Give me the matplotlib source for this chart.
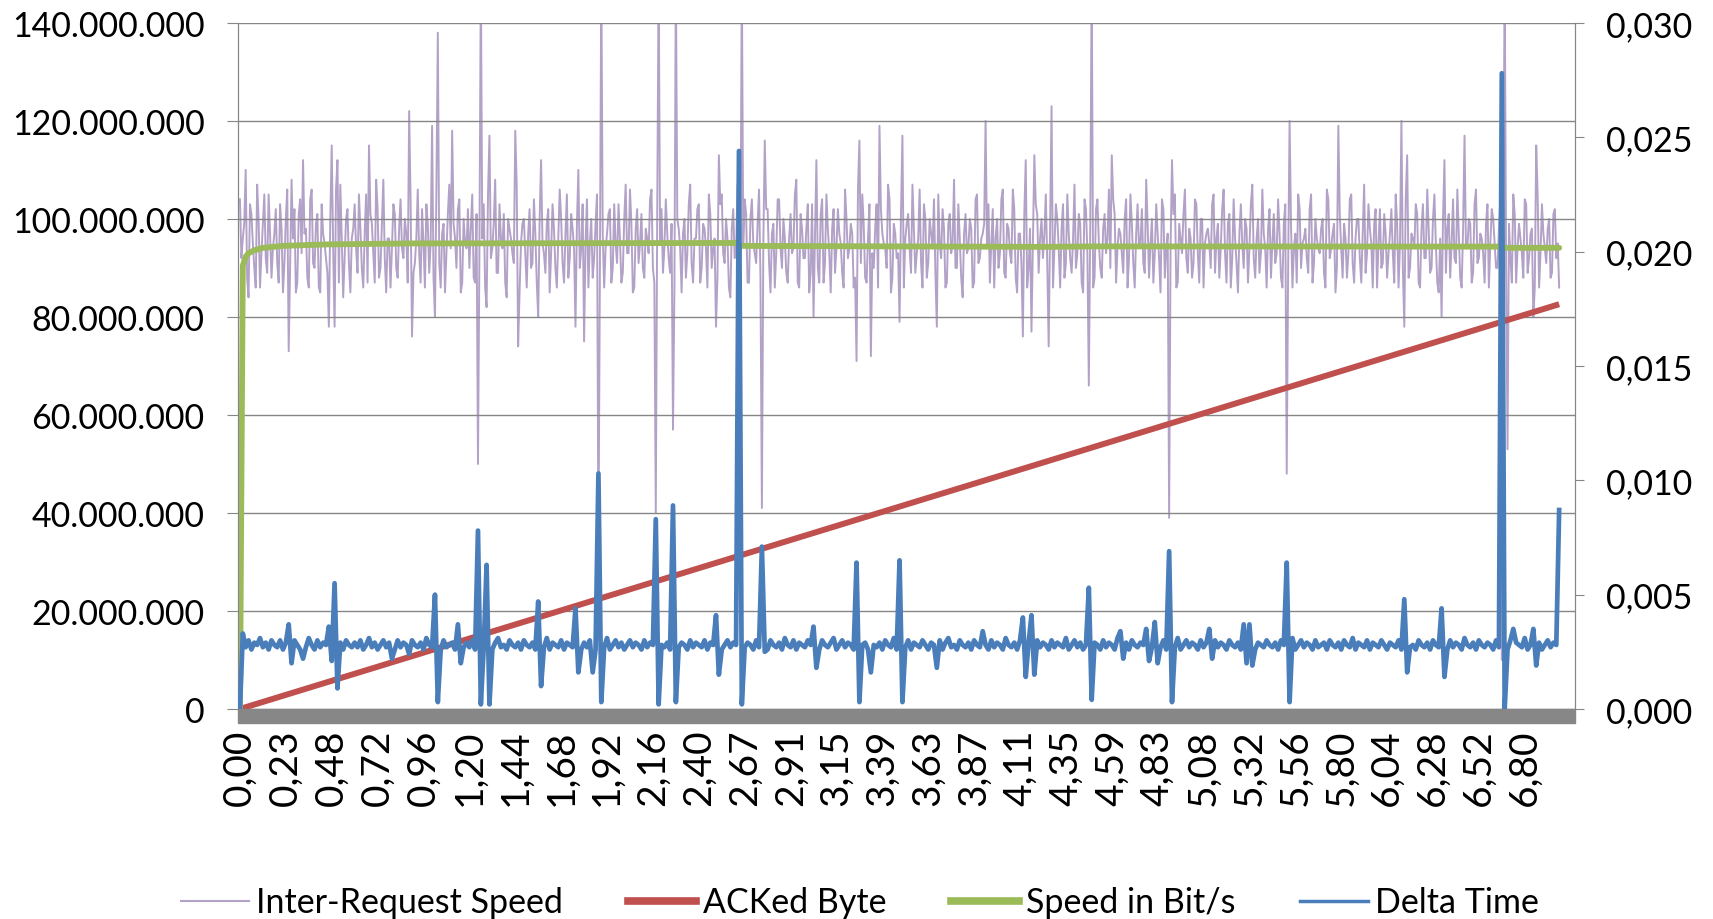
import numpy as np
import matplotlib.pyplot as plt
from matplotlib.patches import Rectangle
from matplotlib.lines import Line2D

plt.rcParams['font.family'] = ['Lato', 'DejaVu Sans']

# tick labels of the category axis (time in s)
time_labels = ['0,00', '0,23', '0,48', '0,72', '0,96', '1,20', '1,44', '1,68', '1,92', '2,16',
               '2,40', '2,67', '2,91', '3,15', '3,39', '3,63', '3,87', '4,11', '4,35', '4,59',
               '4,83', '5,08', '5,32', '5,56', '5,80', '6,04', '6,28', '6,52', '6,80']
label_step = 16

# Inter-Request Speed, Mbit/s, one value per sample
inter_speed = [
    104, 96, 110, 84, 101, 90, 107, 86, 99, 92, 105, 88, 97, 91, 103, 85, 100, 94, 89, 102,
    87, 104, 93, 98, 86, 106, 90, 101, 85, 97, 92, 104, 88, 99, 95, 107, 84, 100, 91, 96,
    103, 89, 98, 86, 105, 93, 99, 87, 102, 90, 108, 85, 96, 94, 101, 88, 104, 92, 97, 86,
    100, 91, 106, 87, 95, 103, 89, 98, 92, 104, 86, 99, 93, 107, 88, 96, 102, 85, 100, 94,
    90, 105, 87, 97, 92, 103, 86, 99, 94, 108, 89, 96, 101, 84, 98, 93, 104, 88, 95, 100,
    86, 102, 91, 97, 89, 106, 93, 99, 85, 103, 90, 96, 100, 87, 105, 92, 98, 84, 101, 94,
    89, 104, 95, 88, 99, 92, 107, 86, 97, 102, 90, 95, 103, 87, 100, 93, 106, 85, 98, 91,
    101, 88, 96, 104, 90, 99, 86, 102, 94, 97, 89, 105, 92, 98, 85, 100, 93, 107, 87, 96,
    103, 90, 98, 86, 101, 94, 99, 88, 105, 91, 96, 84, 102, 93, 97, 89, 104, 87, 100, 95,
    91, 106, 88, 97, 102, 85, 99, 93, 104, 90, 96, 87, 101, 94, 108, 86, 98, 92, 103, 89,
    95, 100, 87, 104, 91, 98, 85, 102, 94, 97, 89, 106, 92, 99, 86, 101, 93, 105, 88, 96,
    100, 90, 103, 87, 97, 94, 107, 85, 99, 92, 104, 88, 96, 101, 89, 98, 93, 106, 86, 100,
    91, 97, 104, 88, 95, 102, 86, 99, 93, 108, 90, 96, 84, 101, 94, 98, 87, 105, 92, 97,
    89, 103, 95, 86, 100, 93, 106, 88, 98, 91, 102, 85, 97, 94, 104, 90, 99, 87, 101, 96,
    92, 105, 88, 98, 94, 100, 86, 103, 91, 97, 89, 107, 93, 99, 85, 102, 95, 96, 88, 104,
    90, 98, 93, 106, 87, 101, 94, 97, 89, 104, 92, 99, 86, 103, 95, 91, 108, 88, 100, 93,
    97, 85, 102, 94, 99, 90, 105, 87, 96, 101, 92, 98, 88, 104, 93, 100, 86, 97, 95, 103,
    89, 99, 94, 106, 87, 101, 92, 96, 85, 103, 90, 98, 94, 107, 88, 100, 93, 97, 86, 102,
    95, 91, 104, 88, 99, 93, 101, 86, 97, 105, 90, 96, 92, 102, 87, 100, 94, 98, 89, 106,
    92, 97, 85, 103, 94, 99, 88, 104, 91, 96, 100, 87, 107, 93, 98, 86, 102, 95, 90, 101,
    88, 97, 93, 105, 86, 99, 94, 101, 90, 96, 103, 87, 98, 92, 106, 89, 100, 95, 85, 102,
    93, 98, 88, 104, 91, 97, 86, 101, 94, 99, 89, 106, 92, 96, 87, 103, 95, 100, 90, 98,
    94, 88, 102, 92, 105, 87, 99, 93, 104, 89, 97, 91, 100, 86, 103, 94, 98, 88, 101, 92,
    86]
# Inter-Request Speed, Mbit/s, the requests that fall between two samples above
inter_speed_mid = [
    92, 99, 88, 103, 95, 86, 100, 93, 105, 89, 97, 94, 102, 87, 98, 91, 106, 90, 96, 85,
    101, 93, 97, 88, 104, 91, 99, 86, 103, 95, 89, 100, 94, 106, 87, 96, 92, 102, 85, 98,
    94, 105, 90, 97, 87, 101, 93, 108, 88, 99, 92, 96, 86, 103, 90, 98, 94, 100, 87, 104,
    89, 96, 93, 102, 86, 99, 95, 88, 106, 91, 97, 85, 101, 94, 99, 90, 104, 87, 95, 102,
    98, 88, 101, 93, 96, 86, 105, 92, 99, 89, 103, 94, 87, 100, 96, 91, 107, 85, 99, 93,
    97, 90, 104, 87, 100, 95, 89, 102, 93, 98, 86, 106, 91, 97, 88, 101, 94, 99, 90, 103,
    95, 86, 100, 92, 105, 88, 97, 94, 101, 87, 103, 91, 96, 89, 107, 93, 99, 86, 102, 95,
    90, 98, 93, 106, 87, 101, 95, 89, 104, 92, 99, 86, 100, 94, 97, 88, 103, 91, 96, 102,
    87, 99, 94, 105, 90, 96, 88, 103, 93, 100, 86, 98, 92, 107, 89, 95, 101, 87, 104, 93,
    99, 88, 95, 102, 91, 97, 86, 104, 94, 100, 89, 96, 93, 105, 87, 101, 92, 98, 85, 103,
    96, 90, 101, 87, 105, 93, 98, 89, 102, 95, 86, 100, 94, 97, 88, 106, 91, 99, 87, 103,
    93, 98, 86, 102, 95, 90, 104, 88, 97, 93, 101, 86, 99, 94, 107, 89, 96, 91, 103, 88,
    100, 94, 89, 105, 92, 98, 87, 101, 95, 90, 103, 88, 97, 93, 100, 86, 104, 91, 96, 99,
    94, 87, 102, 96, 90, 104, 89, 99, 93, 106, 88, 97, 91, 101, 86, 98, 95, 103, 89, 100,
    97, 91, 99, 86, 103, 94, 98, 88, 105, 92, 96, 90, 101, 87, 104, 93, 99, 86, 102, 95,
    88, 101, 96, 90, 104, 87, 98, 93, 100, 86, 105, 91, 97, 94, 102, 89, 99, 95, 87, 103,
    92, 104, 88, 97, 94, 101, 86, 99, 93, 106, 89, 96, 91, 103, 87, 100, 95, 98, 90, 105,
    96, 88, 102, 93, 99, 86, 104, 91, 97, 95, 100, 87, 103, 92, 96, 89, 106, 94, 98, 88,
    101, 93, 97, 86, 103, 90, 99, 94, 87, 102, 95, 98, 89, 105, 91, 96, 93, 100, 86, 104,
    94, 99, 90, 101, 88, 96, 93, 105, 87, 100, 92, 97, 89, 103, 95, 99, 86, 102, 91, 97,
    93, 102, 87, 99, 95, 90, 104, 88, 97, 94, 101, 86, 103, 92, 98, 90, 105, 87, 96, 100,
    89, 101, 95, 92, 106, 88, 98, 94, 100, 87, 103, 91, 97, 93, 99, 86, 102, 95, 90, 104,
    97, 90, 99, 87, 101, 94, 96, 88, 103, 92, 98, 86, 105, 93, 97, 91, 100, 89, 102, 95]
# outliers of Inter-Request Speed: sample -> Mbit/s
inter_speed_peaks = {
    17: 73, 18: 108, 22: 112, 31: 78, 32: 115, 33: 78, 34: 112, 45: 115,
    59: 122, 60: 76, 67: 119, 68: 80, 69: 138, 74: 118, 83: 50, 84: 150,
    86: 82, 87: 117, 96: 118, 97: 74, 104: 80, 105: 112, 117: 78, 118: 110,
    120: 75, 125: 32, 126: 150, 145: 40, 146: 150, 151: 57, 152: 150,
    166: 78, 167: 113, 174: 75, 175: 150, 182: 41, 183: 116, 200: 80, 201: 112,
    215: 71, 216: 116, 220: 72, 223: 119, 230: 79, 231: 117, 243: 78, 260: 120,
    273: 76, 274: 112, 276: 77, 277: 113, 282: 74, 283: 123, 296: 66, 297: 150,
    304: 113, 324: 39, 325: 112, 365: 48, 366: 120, 383: 119, 405: 120, 406: 78,
    407: 113, 419: 80, 420: 112, 427: 117, 440: 10, 441: 150, 442: 53,
    451: 80, 452: 115}

# Delta Time, 1e-4 s, one value per sample
delta_time = [
    0, 33, 27, 30, 26, 29, 28, 31, 27, 29, 26, 30, 28, 27, 30, 26, 29, 28, 27, 30,
    28, 26, 29, 27, 31, 28, 26, 30, 27, 29, 28, 26, 30, 27, 28, 29, 26, 30, 28, 27,
    29, 27, 30, 26, 28, 31, 27, 29, 26, 28, 30, 27, 29, 28, 26, 30, 27, 29, 28, 26,
    30, 28, 27, 29, 26, 31, 28, 27, 29, 28, 26, 30, 27, 28, 29, 26, 30, 28, 27, 29,
    27, 30, 26, 29, 28, 27, 30, 28, 26, 29, 31, 27, 28, 26, 30, 28, 27, 29, 26, 30,
    28, 27, 29, 26, 30, 28, 27, 31, 26, 29, 28, 27, 30, 26, 29, 28, 27, 30, 28, 26,
    29, 27, 30, 28, 26, 29, 28, 27, 31, 26, 28, 30, 27, 29, 26, 28, 30, 27, 29, 28,
    26, 30, 27, 29, 28, 26, 31, 28, 27, 29, 26, 30, 28, 27, 29, 28, 26, 30, 27, 29,
    28, 27, 30, 26, 29, 28, 27, 31, 26, 28, 30, 27, 29, 28, 26, 30, 27, 29, 28, 26,
    30, 27, 29, 28, 26, 30, 28, 27, 29, 26, 31, 28, 27, 30, 26, 29, 28, 27, 30, 28,
    27, 29, 26, 30, 28, 27, 29, 31, 26, 28, 30, 27, 29, 28, 26, 30, 27, 28, 29, 26,
    30, 28, 27, 29, 26, 30, 28, 27, 31, 26, 29, 28, 27, 30, 26, 29, 28, 27, 30, 28,
    26, 29, 28, 27, 30, 26, 29, 31, 27, 28, 26, 30, 28, 27, 29, 26, 30, 28, 27, 29,
    28, 26, 30, 27, 29, 28, 26, 31, 28, 27, 29, 26, 30, 28, 27, 29, 28, 26, 30, 27,
    29, 28, 26, 30, 27, 29, 28, 27, 31, 26, 28, 30, 27, 29, 26, 28, 30, 27, 29, 28,
    26, 30, 27, 29, 28, 26, 31, 28, 27, 29, 26, 30, 28, 27, 29, 28, 26, 30, 27, 29,
    28, 27, 30, 26, 29, 28, 27, 31, 26, 28, 30, 27, 29, 28, 26, 30, 27, 29, 28, 26,
    30, 27, 29, 28, 26, 30, 28, 27, 29, 26, 31, 28, 27, 30, 26, 29, 28, 27, 30, 28,
    27, 29, 26, 30, 28, 27, 29, 31, 26, 28, 30, 27, 29, 28, 26, 30, 27, 28, 29, 26,
    30, 28, 27, 29, 26, 30, 28, 27, 31, 26, 29, 28, 27, 30, 26, 29, 28, 27, 30, 28,
    26, 29, 28, 27, 30, 26, 29, 31, 27, 28, 26, 30, 28, 27, 29, 26, 30, 28, 27, 29,
    28, 26, 30, 27, 29, 28, 26, 31, 28, 27, 29, 26, 30, 28, 27, 29, 28, 26, 30, 27,
    29, 28, 26, 30, 27, 29, 28, 27, 31, 26, 28, 30, 27, 29, 26, 28, 30, 27, 29, 28,
    28]
# outliers of Delta Time: sample -> 1e-4 s
delta_time_peaks = {
    17: 37, 18: 20, 22: 22, 31: 36, 32: 21, 33: 55, 34: 9, 53: 22, 59: 24,
    68: 50, 69: 3, 76: 37, 77: 20, 83: 78, 84: 2, 86: 63, 87: 2, 104: 47, 105: 10,
    117: 44, 118: 16, 123: 16, 125: 103, 126: 3, 145: 83, 146: 2, 151: 89, 152: 3,
    166: 41, 167: 15, 174: 244, 175: 2, 182: 71, 183: 25, 200: 36, 201: 18,
    215: 64, 216: 3, 220: 16, 230: 65, 231: 3, 243: 18, 259: 34, 273: 40, 274: 14,
    276: 41, 277: 15, 296: 53, 297: 4, 307: 34, 308: 22, 316: 35, 317: 21,
    319: 38, 320: 20, 324: 69, 325: 3, 338: 35, 339: 22, 350: 37, 351: 20,
    352: 37, 353: 19, 365: 64, 366: 3, 406: 48, 407: 16, 419: 44, 420: 14,
    440: 278, 441: 0, 444: 35, 451: 35, 452: 19, 460: 87}

# Speed in Bit/s (running average), Mbit/s at a few samples
speed_idx = [0, 1, 2, 3, 5, 8, 15, 30, 60, 173, 174, 280, 300, 439, 440, 460]
speed_val = [0, 90.5, 92.3, 93.0, 93.6, 94.1, 94.5, 94.8, 95.0, 95.1, 94.5, 94.3, 94.4, 94.35, 94.1, 94.1]

# ACKed Byte, bytes
acked_idx = [0, 460]
acked_val = [0, 82.6e6]

base = np.array(inter_speed, dtype=float)
for i, v in inter_speed_peaks.items():
    base[i] = v
purple = np.empty(len(base) + len(inter_speed_mid))
purple[0::2] = base
purple[1::2] = inter_speed_mid
x_purple = np.arange(len(purple)) / 2

blue = np.array(delta_time, dtype=float)
for i, v in delta_time_peaks.items():
    blue[i] = v
x = np.arange(len(blue))

c_purple = '#B3A2C7'
c_red = '#C0504D'
c_green = '#9BBB59'
c_blue = '#4A7EBB'
c_grid = '#868686'

fig = plt.figure(figsize=(17.13, 9.20), dpi=100)
ax = fig.add_axes([0.1389, 0.2283, 0.7805, 0.7457])
ax2 = ax.twinx()

ax.plot(x_purple, purple * 1e6, color=c_purple, lw=1.4, zorder=2)
ax.plot(acked_idx, acked_val, color=c_red, lw=4.3, zorder=3, solid_capstyle='butt')
ax.plot(speed_idx, np.array(speed_val) * 1e6, color=c_green, lw=4.2, zorder=4,
        solid_capstyle='round')
ax2.plot(x, blue * 1e-4, color=c_blue, lw=3.4, zorder=5)

ax.set_ylim(0, 140e6)
ax2.set_ylim(0, 0.030)
ax.set_xlim(-0.7, 465.5)

yt = np.arange(0, 140e6 + 1, 20e6)
ax.set_yticks(yt)
ax.set_yticklabels([f'{int(v):,}'.replace(',', '.') for v in yt])
yt2 = np.arange(0, 0.0301, 0.005)
ax2.set_yticks(yt2)
ax2.set_yticklabels([f'{v:.3f}'.replace('.', ',') for v in yt2])

ax.set_xticks(np.arange(len(time_labels)) * label_step)
ax.set_xticklabels(time_labels, rotation=90, va='top', ha='center')

# grid sits just above the purple band, below the other series
ax.grid(axis='y', color=c_grid, lw=1.0)
ax.set_axisbelow(False)
for gl in ax.get_ygridlines():
    gl.set_zorder(2.5)

for a in (ax, ax2):
    a.spines['top'].set_visible(False)
    a.spines['bottom'].set_visible(False)
    a.spines['left'].set_color(c_grid)
    a.spines['right'].set_color(c_grid)
ax.tick_params(axis='y', length=8, color=c_grid, pad=16, labelsize=24.5)
ax2.tick_params(axis='y', length=6.5, color=c_grid, pad=16, labelsize=24.5)
ax.tick_params(axis='x', length=0, pad=14, labelsize=28)

# thick grey floor under the category axis
ax.add_patch(Rectangle((0, -14 / 686), 1, 14 / 686, transform=ax.transAxes,
                       color='#878787', clip_on=False, zorder=6))

handles = [Line2D([], [], color=c_purple, lw=1.5),
           Line2D([], [], color=c_red, lw=5.5),
           Line2D([], [], color=c_green, lw=5.5),
           Line2D([], [], color=c_blue, lw=2.5)]
names = ['Inter-Request Speed', 'ACKed Byte', 'Speed in Bit/s', 'Delta Time']
fig.legend(handles, names, loc='center', bbox_to_anchor=(0.502, 0.018), ncol=4,
           frameon=False, fontsize=24.5, handlelength=2.0, handletextpad=0.2,
           columnspacing=1.9)

fig.savefig('out.png', dpi=100)
